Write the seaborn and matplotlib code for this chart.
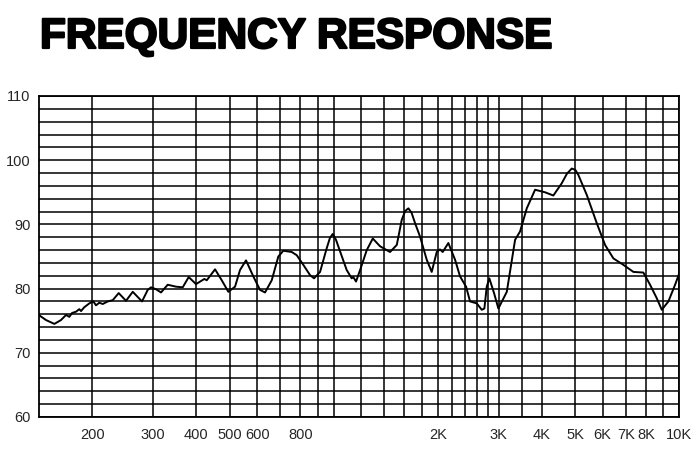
import matplotlib
matplotlib.use("Agg")
import matplotlib.pyplot as plt
import matplotlib.patheffects as pe
from matplotlib.ticker import FixedLocator, NullFormatter, FixedFormatter
import seaborn as sns
import pandas as pd

# ---- data ----
freq_hz = [140, 147, 155.4, 162.4, 168, 171.7, 174.8, 179.5, 183.5, 185.6,
           189.7, 196.2, 201.5, 205.1, 209.7, 214.5, 221.8, 229.3, 238.6, 250.5,
           262, 278.7, 289.5, 295.9, 305.9, 316.3, 330.7, 349.5, 365.5, 380.4,
           399.4, 422.1, 429, 453.4, 474.1, 495.4, 518, 535.5, 557.3, 585.1,
           611.8, 632.6, 661.5, 691.2, 714.7, 755.9, 781.4, 816.5, 853.8, 876.9,
           912.8, 954.3, 975, 993.1, 1015, 1043, 1090, 1127, 1139, 1160, 1192, 1246,
           1297, 1361, 1455, 1522, 1573, 1610, 1644, 1680, 1719, 1777, 1858, 1921,
           1986, 2030, 2067, 2146, 2244, 2320, 2415, 2480, 2593, 2681,
           2728, 2772, 2820, 2910, 2995, 3168, 3348, 3461, 3619, 3825,
           4088, 4320, 4568, 4730, 4884, 5000, 5104, 5397, 5769, 6098, 6446, 6889,
           7365, 7870, 8230, 8605, 8899, 9299, 9723, 10000]
spl_db = [75.9, 75.1, 74.5, 75.1, 75.9, 75.6, 76.2, 76.4, 76.8, 76.5,
          77.1, 77.7, 78.0, 77.4, 77.8, 77.6, 78.0, 78.2, 79.3, 78.1,
          79.5, 78.0, 79.8, 80.2, 79.9, 79.4, 80.6, 80.3, 80.2, 81.8,
          80.7, 81.5, 81.3, 83.0, 81.3, 79.5, 80.3, 82.9, 84.4, 81.9,
          79.8, 79.4, 81.3, 85.0, 85.9, 85.7, 85.2, 83.7, 82.1, 81.6,
          82.6, 86.3, 87.9, 88.5, 87.6, 85.8, 82.9, 81.6, 81.8, 81.1, 82.9, 86.0,
          87.8, 86.6, 85.7, 86.8, 90.7, 92.1, 92.5, 91.8, 90.2, 88.1, 84.5, 82.6,
          85.7, 86.1, 85.7, 87.1, 84.5, 81.9, 80.3, 78.0, 77.7, 76.7,
          76.9, 80.3, 81.6, 79.3, 76.9, 79.5, 87.6, 88.9, 92.5, 95.4,
          95.0, 94.5, 96.4, 97.9, 98.7, 98.5, 97.7, 94.6, 90.2, 86.8, 84.7, 83.7,
          82.6, 82.5, 80.6, 78.5, 76.7, 78.0, 80.6, 82.4]

x_label_pos = [200, 300, 400, 500, 600, 800, 2000, 3000, 4000, 5000, 6000, 7000, 8000, 10000]
x_labels = ["200", "300", "400", "500", "600", "800", "2K", "3K", "4K", "5K", "6K", "7K", "8K", "10K"]
x_grid = [200, 300, 400, 500, 600, 700, 800, 900, 1000, 1200, 1400, 1600, 1800,
          2000, 2200, 2400, 2600, 2800, 3000, 3500, 4000, 5000, 6000, 7000, 8000, 9000, 10000]
y_labels = [60, 70, 80, 90, 100, 110]
y_grid = list(range(60, 111, 2))

title = "FREQUENCY RESPONSE"

# ---- plot ----
sns.set_style("white")
plt.rcParams['font.family'] = ['Liberation Sans', 'DejaVu Sans']

fig = plt.figure(figsize=(6.99, 4.57), dpi=100)
ax = fig.add_axes([38.7 / 699, 1 - 417 / 457, (679.3 - 38.7) / 699, (417 - 96) / 457])

df = pd.DataFrame({"freq": freq_hz, "spl": spl_db})
sns.lineplot(data=df, x="freq", y="spl", ax=ax, color="black", linewidth=1.4,
             sort=False, zorder=5, solid_joinstyle="round", solid_capstyle="round")

ax.set_xscale("log")
ax.set_xlim(140, 10000)
ax.set_ylim(60, 110)

ax.xaxis.set_major_locator(FixedLocator(x_label_pos))
ax.xaxis.set_major_formatter(FixedFormatter(x_labels))
ax.xaxis.set_minor_locator(FixedLocator(x_grid))
ax.xaxis.set_minor_formatter(NullFormatter())
ax.yaxis.set_major_locator(FixedLocator(y_labels))
ax.yaxis.set_minor_locator(FixedLocator(y_grid))

ax.grid(True, which="both", axis="both", color="black", linewidth=1.1)
ax.set_axisbelow(True)
ax.tick_params(axis="both", which="both", length=0)
ax.tick_params(axis="x", pad=8, labelsize=10.5)
ax.tick_params(axis="y", pad=6, labelsize=10.5)
ax.set_xlabel("")
ax.set_ylabel("")
for s in ax.spines.values():
    s.set_color("black")
    s.set_linewidth(1.3)
    s.set_visible(True)

fig.text(40 / 699, 1 - 48 / 457, title, fontsize=30.5, fontweight="bold",
         family=["Liberation Sans", "DejaVu Sans"], color="black",
         ha="left", va="baseline",
         path_effects=[pe.withStroke(linewidth=1.6, foreground="black")])

fig.savefig("out.png", dpi=100)
